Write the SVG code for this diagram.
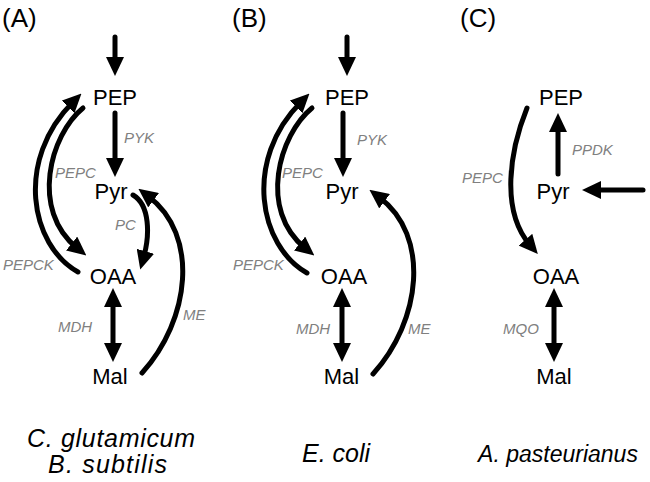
<svg xmlns="http://www.w3.org/2000/svg" width="650" height="482" viewBox="0 0 650 482">
<style>
.n{font-family:"Liberation Sans",Arial,sans-serif;font-size:22px;fill:#000;text-anchor:middle}
.e{font-family:"Liberation Sans",Arial,sans-serif;font-size:15px;font-style:italic;fill:#808080}
.t{font-family:"Liberation Sans",Arial,sans-serif;font-size:26px;fill:#000}
.s{font-family:"Liberation Sans",Arial,sans-serif;font-style:italic;fill:#000;text-anchor:middle}
.a{fill:none;stroke:#000;stroke-width:5;stroke-linecap:round}
.h{marker-end:url(#ah)}
.d{marker-start:url(#ah);marker-end:url(#ah)}
</style>
<defs>
<marker id="ah" viewBox="0 0 19 18" refX="7" refY="9" markerWidth="19" markerHeight="18" markerUnits="userSpaceOnUse" orient="auto-start-reverse"><path d="M0,0 L19,9 L0,18 z" fill="#000"/></marker>
</defs>
<rect width="650" height="482" fill="#fff"/>
<g id="titles">
<text class="t" x="2" y="27">(A)</text>
<text class="t" x="232" y="27">(B)</text>
<text class="t" x="460" y="27">(C)</text>
</g>
<g id="connectors">
<!-- Panel A -->
<path class="a h" d="M115,37 L115,64"/>
<path class="a h" d="M115,113 L115,165"/>
<path class="a d" d="M113,300 L113,350"/>
<path class="a h" d="M78,272 C30,245 15,160 73,102"/>
<path class="a h" d="M83,108 C50,135 30,210 77,248"/>
<path class="a h" d="M133,195 C150,205 150,235 143.5,258"/>
<path class="a h" d="M142,373 C190,320 200,235 148,196"/>
<!-- Panel B -->
<path class="a h" d="M347,37 L347,64"/>
<path class="a h" d="M343,113 L343,165"/>
<path class="a d" d="M342,300 L342,350"/>
<path class="a h" d="M307,273 C259,246 243,160 301,102"/>
<path class="a h" d="M312,108 C279,135 258,210 305,248"/>
<path class="a h" d="M373,374 C421,321 431,236 379,197"/>
<!-- Panel C -->
<path class="a h" d="M558,174 L558,125"/>
<path class="a h" d="M643,190 L594,190"/>
<path class="a h" d="M527,108 C510,150 500,210 530,245"/>
<path class="a d" d="M554,300 L554,350"/>
</g>
<g id="labels">
<text class="e" x="124" y="143">PYK</text>
<text class="e" x="55" y="178">PEPC</text>
<text class="e" x="3" y="270">PEPCK</text>
<text class="e" x="115" y="230">PC</text>
<text class="e" x="183" y="320">ME</text>
<text class="e" x="58" y="332">MDH</text>
<text class="e" x="357" y="145">PYK</text>
<text class="e" x="282" y="178">PEPC</text>
<text class="e" x="233" y="270">PEPCK</text>
<text class="e" x="296" y="334">MDH</text>
<text class="e" x="408" y="334">ME</text>
<text class="e" x="572" y="155">PPDK</text>
<text class="e" x="462" y="183">PEPC</text>
<text class="e" x="503" y="334">MQO</text>
</g>
<g id="A-PEP"><text class="n" x="115" y="105">PEP</text></g>
<g id="A-Pyr"><text class="n" x="111" y="199">Pyr</text></g>
<g id="A-OAA"><text class="n" x="113" y="284">OAA</text></g>
<g id="A-Mal"><text class="n" x="110" y="384">Mal</text></g>
<g id="B-PEP"><text class="n" x="347" y="105">PEP</text></g>
<g id="B-Pyr"><text class="n" x="342" y="199">Pyr</text></g>
<g id="B-OAA"><text class="n" x="344" y="284">OAA</text></g>
<g id="B-Mal"><text class="n" x="341.5" y="384">Mal</text></g>
<g id="C-PEP"><text class="n" x="561" y="105">PEP</text></g>
<g id="C-Pyr"><text class="n" x="553" y="199">Pyr</text></g>
<g id="C-OAA"><text class="n" x="556" y="284">OAA</text></g>
<g id="C-Mal"><text class="n" x="554" y="384">Mal</text></g>
<g id="organisms">
<text class="s" x="111" y="447" font-size="25" textLength="168">C. glutamicum</text>
<text class="s" x="107.5" y="473" font-size="25" textLength="119">B. subtilis</text>
<text class="s" x="336" y="462" font-size="25">E. coli</text>
<text class="s" x="558" y="462" font-size="23">A. pasteurianus</text>
</g>
</svg>
